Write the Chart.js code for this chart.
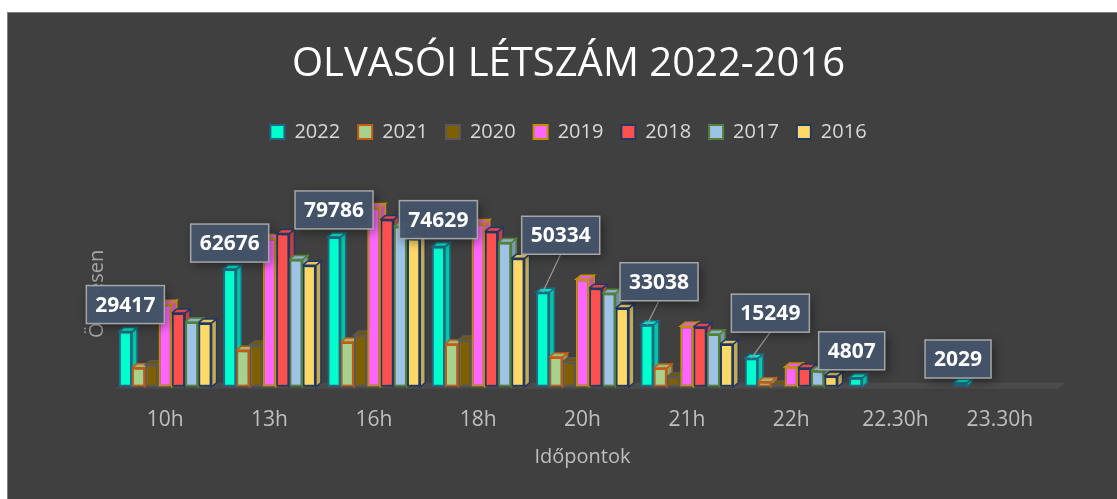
<!DOCTYPE html>
<html lang="hu">
<head>
<meta charset="utf-8">
<title>Olvasói létszám 2022-2016</title>
<script src="https://cdn.jsdelivr.net/npm/chart.js@4"></script>
<style>
    html, body { margin: 0; padding: 0; background: #ffffff; }
    #frame {
        position: absolute; left: 7px; top: 12px;
        width: 1110px; height: 487px;
        background: #404040;
        border-left: 1px solid #808080;
        border-top: 1px solid #808080;
    }
    #chart { display: block; }
</style>
</head>
<body>
<div id="frame"><canvas id="chart" width="1109" height="486"></canvas></div>
<script>
const labels = ['10h', '13h', '16h', '18h', '20h', '21h', '22h', '22.30h', '23.30h'];
const years = ['2022', '2021', '2020', '2019', '2018', '2017', '2016'];

// olvasók száma időpontonként, évenként
const v2022 = [29417, 62676, 79786, 74629, 50334, 33038, 15249, 4807, 2029];
const v2021 = [10100, 19500, 23900, 22800, 15900, 10000, 2700, null, null];
const v2020 = [11700, 22300, 27600, 24900, 13300, 5300, 1000, null, null];
const v2019 = [44000, 79000, 95400, 86900, 57200, 32300, 10600, null, null];
const v2018 = [39300, 81600, 89000, 82700, 52500, 31800, 10000, null, null];
const v2017 = [34500, 67800, 85300, 76800, 49800, 28100, 8500, null, null];
const v2016 = [34000, 64700, 79000, 68400, 41900, 22800, 5800, null, null];
const series = [v2022, v2021, v2020, v2019, v2018, v2017, v2016];

const fills = ['#00FFCC', '#A9D18E', '#7F6000', '#FF66FF', '#FF5050', '#9DC3E6', '#FFD966'];
const borders = ['#1F6A8A', '#C55A11', '#595959', '#BF9000', '#203864', '#548235', '#1F3864'];

// címkék eltolása a 2022-es oszlop tetejéhez képest [dx, emelés]
const calloutShift = [[0, 8], [0, 7], [0, 8], [0, 8], [18, 38], [12, 24], [19, 26], [-4, 8], [-2, 5]];

const FONT = "'Open Sans', sans-serif";
const DEPTH_X = 5;
const DEPTH_Y = 4;

function shade(hex, f) {
    const n = parseInt(hex.slice(1), 16);
    const r = Math.round(((n >> 16) & 255) * f);
    const g = Math.round(((n >> 8) & 255) * f);
    const b = Math.round((n & 255) * f);
    return 'rgb(' + r + ',' + g + ',' + b + ')';
}

const depthPlugin = {
    id: 'depth',
    beforeDatasetsDraw(chart) {
        const ctx = chart.ctx;
        const area = chart.chartArea;
        ctx.save();
        // padló
        ctx.fillStyle = '#4b4b4b';
        ctx.beginPath();
        ctx.moveTo(area.left + 2, area.bottom + 2);
        ctx.lineTo(area.right + 6, area.bottom + 2);
        ctx.lineTo(area.right + 14, area.bottom - 4);
        ctx.lineTo(area.left + 10, area.bottom - 4);
        ctx.closePath();
        ctx.fill();

        // függőleges tengely címe
        ctx.save();
        ctx.translate(area.left - 16, area.bottom - 93);
        ctx.rotate(-Math.PI / 2);
        ctx.font = '20px ' + FONT;
        ctx.fillStyle = '#a6a6a6';
        ctx.textAlign = 'center';
        ctx.textBaseline = 'middle';
        ctx.fillText('Összesen', 0, 0);
        ctx.restore();

        chart.data.datasets.forEach((ds, i) => {
            const meta = chart.getDatasetMeta(i);
            meta.data.forEach((el, j) => {
                if (ds.data[j] == null) return;
                const p = el.getProps(['x', 'y', 'base', 'width'], true);
                const l = p.x - p.width / 2;
                const r = p.x + p.width / 2;
                ctx.lineWidth = 1.5;
                ctx.strokeStyle = borders[i];
                // oldallap
                ctx.fillStyle = shade(fills[i], 0.78);
                ctx.beginPath();
                ctx.moveTo(r, p.y);
                ctx.lineTo(r + DEPTH_X, p.y - DEPTH_Y);
                ctx.lineTo(r + DEPTH_X, p.base - DEPTH_Y);
                ctx.lineTo(r, p.base);
                ctx.closePath();
                ctx.fill();
                ctx.stroke();
                // tető
                ctx.fillStyle = shade(fills[i], 0.9);
                ctx.beginPath();
                ctx.moveTo(l, p.y);
                ctx.lineTo(r, p.y);
                ctx.lineTo(r + DEPTH_X, p.y - DEPTH_Y);
                ctx.lineTo(l + DEPTH_X, p.y - DEPTH_Y);
                ctx.closePath();
                ctx.fill();
                ctx.stroke();
            });
        });
        ctx.restore();
    }
};

const calloutPlugin = {
    id: 'callouts',
    afterDatasetsDraw(chart) {
        const ctx = chart.ctx;
        const meta = chart.getDatasetMeta(0);
        ctx.save();
        ctx.font = 'bold 21px ' + FONT;
        ctx.textAlign = 'center';
        ctx.textBaseline = 'middle';
        meta.data.forEach((el, j) => {
            const value = v2022[j];
            if (value == null) return;
            const text = String(value);
            const w = ctx.measureText(text).width + 18;
            const h = 38;
            const cx = el.x + calloutShift[j][0];
            const bottom = el.y - calloutShift[j][1];
            const top = bottom - h;
            if (calloutShift[j][1] > 15) {
                ctx.strokeStyle = '#9a9a9a';
                ctx.lineWidth = 1.2;
                ctx.beginPath();
                ctx.moveTo(cx, bottom);
                ctx.lineTo(el.x, el.y);
                ctx.stroke();
            }
            ctx.save();
            ctx.shadowColor = 'rgba(0,0,0,0.45)';
            ctx.shadowBlur = 10;
            ctx.shadowOffsetX = 3;
            ctx.shadowOffsetY = 3;
            ctx.fillStyle = 'rgba(68, 84, 106, 0.95)';
            ctx.fillRect(cx - w / 2, top, w, h);
            ctx.restore();
            ctx.strokeStyle = '#a6a6a6';
            ctx.lineWidth = 1.5;
            ctx.strokeRect(cx - w / 2, top, w, h);
            ctx.fillStyle = '#ffffff';
            ctx.fillText(text, cx, top + h / 2 + 1);
        });
        ctx.restore();
    }
};

document.addEventListener('DOMContentLoaded', function () {
    const ctx = document.getElementById('chart').getContext('2d');

    const datasets = years.map((year, i) => ({
        label: year,
        data: series[i],
        backgroundColor: fills[i],
        borderColor: borders[i],
        borderWidth: 2,
        borderSkipped: false,
        barPercentage: 1.0,
        categoryPercentage: 0.89
    }));

    new Chart(ctx, {
        type: 'bar',
        data: { labels: labels, datasets: datasets },
        options: {
            responsive: false,
            animation: false,
            layout: { padding: { left: 77, right: 65, top: 20, bottom: 30 } },
            plugins: {
                title: {
                    display: true,
                    text: 'OLVASÓI LÉTSZÁM 2022-2016',
                    color: '#ffffff',
                    font: { family: FONT, size: 40, weight: 'normal' },
                    padding: { top: 8, bottom: 15 }
                },
                legend: {
                    position: 'top',
                    labels: {
                        color: '#d9d9d9',
                        font: { family: FONT, size: 20 },
                        boxWidth: 14,
                        boxHeight: 14,
                        padding: 18
                    }
                },
                tooltip: { enabled: false }
            },
            scales: {
                x: {
                    grid: { display: false, drawTicks: true, tickLength: 21 },
                    border: { display: false },
                    ticks: { color: '#bfbfbf', font: { family: FONT, size: 21 }, padding: 0 },
                    title: {
                        display: true,
                        text: 'Időpontok',
                        color: '#bfbfbf',
                        font: { family: FONT, size: 20 },
                        padding: { top: 12, bottom: 0 }
                    }
                },
                y: {
                    min: 0,
                    max: 125000,
                    grid: { display: false, drawTicks: false },
                    border: { display: false },
                    ticks: { display: false },
                    afterFit(scale) { scale.width = 28; }
                }
            }
        },
        plugins: [depthPlugin, calloutPlugin]
    });
});
</script>
</body>
</html>
